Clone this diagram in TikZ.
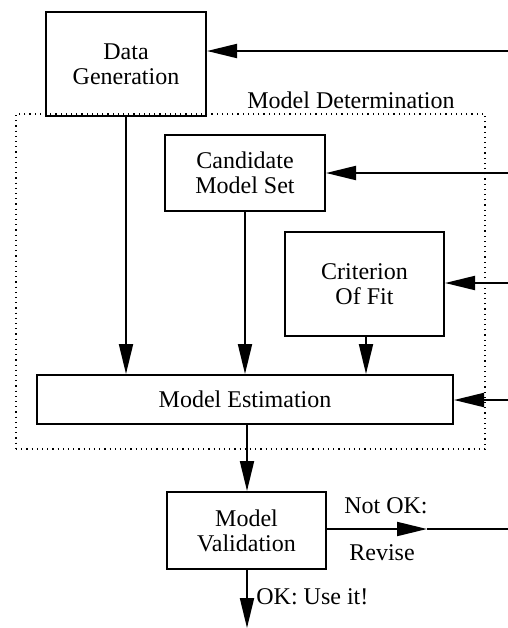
\documentclass[tikz,border=0pt]{standalone}
\usepackage{fontspec}
\setmainfont{Liberation Serif}
\usetikzlibrary{arrows.meta}
\begin{document}
\begin{tikzpicture}[x=0.5pt,y=-0.5pt,
  box/.style={draw,line width=1pt,align=center,inner sep=0pt,
    font=\fontsize{12}{12.5}\selectfont},
  lbl/.style={inner sep=0pt,font=\fontsize{12}{12.5}\selectfont},
  conn/.style={line width=1pt,-{Triangle[length=15pt,width=7pt]}},
  plain/.style={line width=1pt}]
\useasboundingbox (0,0) rectangle (508,628);
% frame
\node[draw,dotted,line width=0.6pt,minimum width=234.5pt,minimum height=167.5pt,inner sep=0pt] (det) at (250.5,281.5) {};
\node[lbl] (detl) at (351,100) {Model Determination};
% boxes
\node[box,minimum width=80pt,minimum height=52pt] (gen) at (126,64) {Data\\Generation};
\node[box,minimum width=80pt,minimum height=38pt] (cand) at (245,173) {Candidate\\Model Set};
\node[box,minimum width=79.5pt,minimum height=52pt] (crit) at (364.5,284) {Criterion\\Of Fit};
\node[box,minimum width=208pt,minimum height=24.5pt] (est) at (245,399.5) {Model Estimation};
\node[box,minimum width=79.5pt,minimum height=38.5pt] (val) at (246.5,530.5) {Model\\Validation};
% free ends
\coordinate (r1) at (508,51);
\coordinate (r2) at (508,173);
\coordinate (r3) at (508,283);
\coordinate (r4) at (508,400);
\coordinate (r5) at (508,529);
\coordinate (mid) at (427,529);
\coordinate (bot) at (247,628);
% connectors
\draw[conn] (r1) -- (r1 -| gen.east);
\draw[conn] (r2) -- (r2 -| cand.east);
\draw[conn] (r3) -- (r3 -| crit.east);
\draw[conn] (r4) -- (r4 -| est.east);
\draw[conn] (gen.south) -- (gen.south |- est.north);
\draw[conn] (cand.south) -- (cand.south |- est.north);
\draw[conn] (366,0 |- crit.south) -- (366,0 |- est.north);
\draw[conn] (247,0 |- est.south) -- (247,0 |- val.north);
\draw[conn] (val.east |- mid) -- (mid);
\draw[plain] (mid) -- (r5);
\draw[conn] (247,0 |- val.south) -- (bot);
% labels
\node[lbl] (notok) at (386,506) {Not OK:};
\node[lbl] (rev) at (382,553) {Revise};
\node[lbl,anchor=west] (ok) at (256,597) {OK: Use it!};
\end{tikzpicture}
\end{document}
